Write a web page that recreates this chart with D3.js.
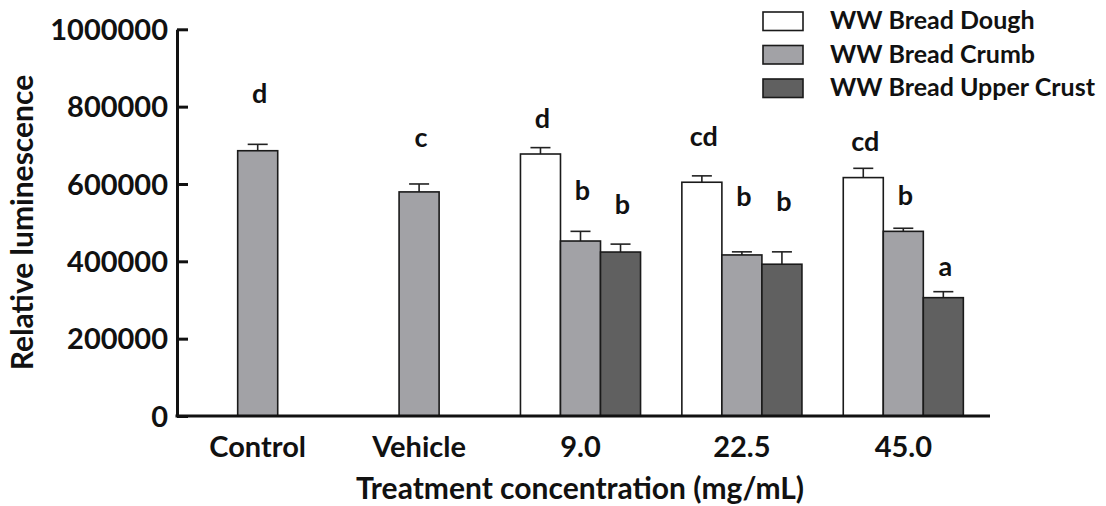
<!DOCTYPE html>
<html>
<head>
<meta charset="utf-8">
<script src="https://cdn.jsdelivr.net/npm/d3@7"></script>
<style>
  html, body { margin: 0; padding: 0; background: #fff; }
  svg { display: block; font-family: Lato, "Open Sans", sans-serif; font-weight: 700; }
</style>
</head>
<body>
<svg id="chart" width="1106" height="506"></svg>
<script>
// Treatment groups on the x axis
const groups = ["Control", "Vehicle", "9.0", "22.5", "45.0"];

// Mean relative luminescence per sample type (null = not tested)
const doughValues = [null, null, 677500, 604500, 616500];
const crumbValues = [686000, 579500, 452500, 416500, 477500];
const crustValues = [null, null, 424000, 392500, 306000];

// Standard error for each mean
const doughErrors = [null, null, 16500, 16500, 24000];
const crumbErrors = [16500, 20500, 25000, 8000, 8000];
const crustErrors = [null, null, 20500, 32000, 15500];

// Significance letters and the luminescence level each is written at
const doughLetters = [null, null, "d", "cd", "cd"];
const crumbLetters = ["d", "c", "b", "b", "b"];
const crustLetters = [null, null, "b", "b", "a"];
const doughLetterAt = [null, null, 745500, 698000, 686000];
const crumbLetterAt = [808500, 695000, 558500, 543000, 545500];
const crustLetterAt = [null, null, 521500, 530000, 363000];

const seriesNames = ["WW Bread Dough", "WW Bread Crumb", "WW Bread Upper Crust"];
const yTicks = [0, 200000, 400000, 600000, 800000, 1000000];

const series = [
  { name: seriesNames[0], values: doughValues, errors: doughErrors, letters: doughLetters, letterAt: doughLetterAt, fill: "#ffffff" },
  { name: seriesNames[1], values: crumbValues, errors: crumbErrors, letters: crumbLetters, letterAt: crumbLetterAt, fill: "#a2a2a6" },
  { name: seriesNames[2], values: crustValues, errors: crustErrors, letters: crustLetters, letterAt: crustLetterAt, fill: "#606060" }
];

const svg = d3.select("#chart");
const plotLeft = 177, plotRight = 984, plotTop = 29.3, plotBottom = 416;
const labelFont = 29;

const y = d3.scaleLinear().domain([0, 1000000]).range([plotBottom, plotTop]);
const x = d3.scaleBand().domain(groups).range([plotLeft, plotRight]).padding(0);
const barW = x.bandwidth() * 0.248;

// Bars: full groups get three side-by-side bars, single-series groups one centred bar
const marks = [];
groups.forEach((g, gi) => {
  const present = series.filter(s => s.values[gi] != null);
  const cx = x(g) + x.bandwidth() / 2;
  present.forEach((s, k) => {
    const x0 = cx - present.length * barW / 2 + k * barW;
    marks.push({ g, gi, s, x0, v: s.values[gi], e: s.errors[gi], letter: s.letters[gi], at: s.letterAt[gi] });
  });
});

const barG = svg.append("g");
// error bars (upper half only)
barG.selectAll("line.err").data(marks).join("line").attr("class", "err")
  .attr("x1", d => d.x0 + barW / 2).attr("x2", d => d.x0 + barW / 2)
  .attr("y1", d => y(d.v)).attr("y2", d => y(d.v + d.e))
  .attr("stroke", "#222").attr("stroke-width", 1.6);
barG.selectAll("line.cap").data(marks).join("line").attr("class", "cap")
  .attr("x1", d => d.x0 + barW / 4).attr("x2", d => d.x0 + barW * 3 / 4)
  .attr("y1", d => y(d.v + d.e)).attr("y2", d => y(d.v + d.e))
  .attr("stroke", "#222").attr("stroke-width", 1.6);
barG.selectAll("rect").data(marks).join("rect")
  .attr("x", d => d.x0).attr("width", barW)
  .attr("y", d => y(d.v)).attr("height", d => y(0) - y(d.v))
  .attr("fill", d => d.s.fill).attr("stroke", "#1a1a1a").attr("stroke-width", 1.6);

// significance letters
svg.append("g").selectAll("text").data(marks).join("text")
  .attr("x", d => d.x0 + barW / 2 + 2).attr("y", d => y(d.at))
  .attr("text-anchor", "middle").attr("font-size", 27).attr("fill", "#111")
  .text(d => d.letter);

// y axis with inward ticks
const yAxis = d3.axisLeft(y).tickValues(yTicks).tickFormat(d3.format("d"))
  .tickSizeInner(-11).tickSizeOuter(0).tickPadding(9);
const yg = svg.append("g").attr("transform", `translate(${plotLeft},0)`).call(yAxis);
yg.selectAll("path, line").attr("stroke", "#111").attr("stroke-width", 3);
yg.selectAll("text").attr("font-size", labelFont).attr("font-family", "Lato, sans-serif")
  .attr("font-weight", 700).attr("fill", "#111").attr("dy", "0.35em");

// x axis
const xAxis = d3.axisBottom(x).tickSize(0).tickPadding(0);
const xg = svg.append("g").attr("transform", `translate(0,${plotBottom})`).call(xAxis);
xg.select(".domain").remove();
xg.append("line").attr("x1", plotLeft - 1.5).attr("x2", plotRight + 6).attr("y1", 0).attr("y2", 0)
  .attr("stroke", "#111").attr("stroke-width", 3);
xg.selectAll("text").attr("font-size", labelFont).attr("font-family", "Lato, sans-serif")
  .attr("font-weight", 700).attr("fill", "#111").attr("y", 41).attr("dy", null);

// axis titles
svg.append("text").attr("x", 580).attr("y", 499).attr("text-anchor", "middle")
  .attr("font-size", 30).attr("fill", "#111").text("Treatment concentration (mg/mL)");
svg.append("text").attr("transform", "translate(33,222.5) rotate(-90)").attr("text-anchor", "middle")
  .attr("font-size", 30).attr("fill", "#111").text("Relative luminescence");

// legend
const leg = svg.append("g").attr("transform", "translate(763,12)");
const rows = leg.selectAll("g").data(series).join("g")
  .attr("transform", (d, i) => `translate(0,${i * 33.5})`);
rows.append("rect").attr("width", 40).attr("height", 18.5)
  .attr("fill", d => d.fill).attr("stroke", "#1a1a1a").attr("stroke-width", 1.6);
rows.append("text").attr("x", 67).attr("y", 17).attr("font-size", 25).attr("fill", "#111")
  .text(d => d.name);
</script>
</body>
</html>
